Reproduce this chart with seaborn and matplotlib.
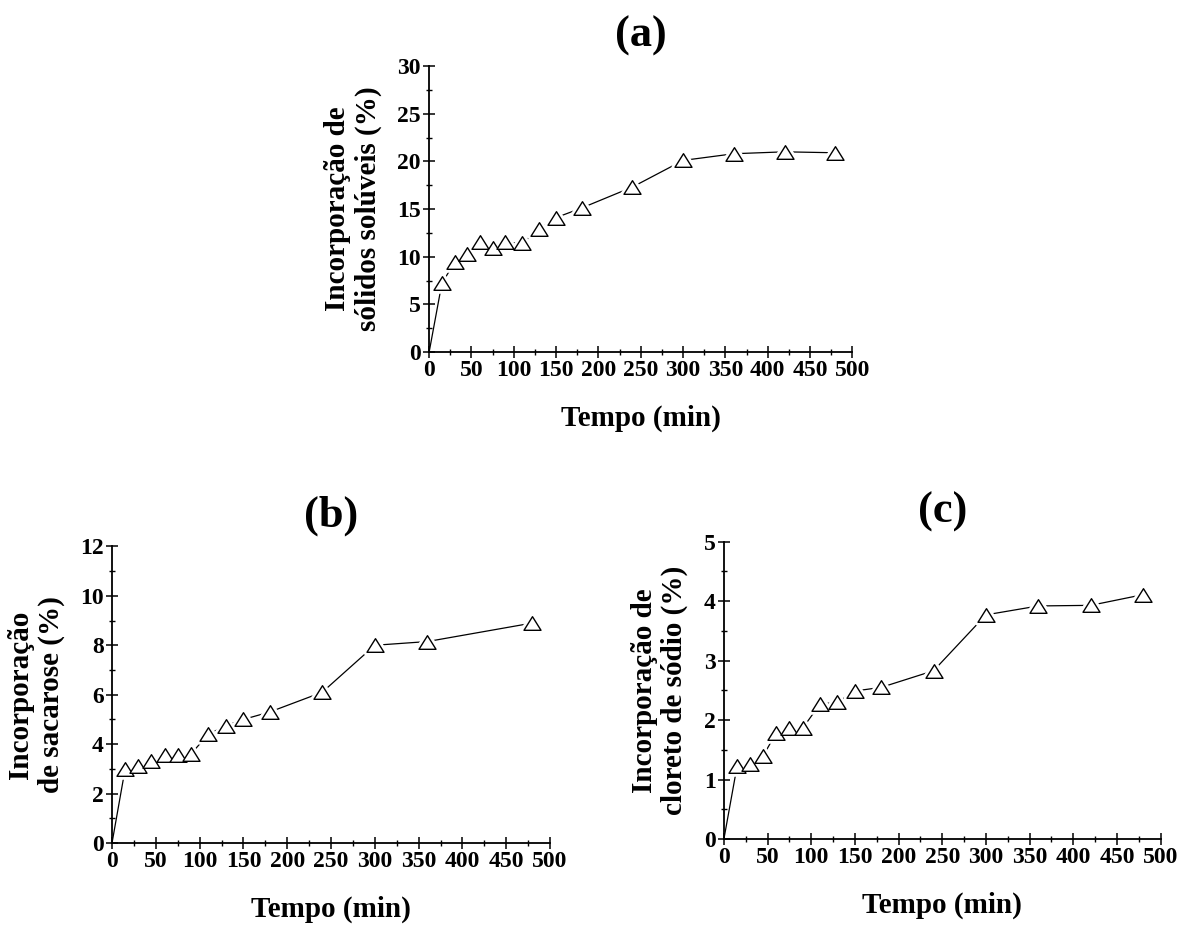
import matplotlib
matplotlib.use("Agg")
import matplotlib.pyplot as plt
from matplotlib.ticker import MultipleLocator, AutoMinorLocator
from matplotlib.path import Path
import seaborn as sns
import pandas as pd

# Soluble-solids, sucrose and sodium chloride uptake over time
tempo_a = [0, 15, 30, 45, 60, 75, 90, 110, 130, 150, 180, 240, 300, 360, 420, 480]
solidos = [0, 7.2, 9.4, 10.3, 11.5, 10.95, 11.5, 11.4, 12.9, 14.1, 15.1, 17.3, 20.1, 20.8, 21.0, 20.9]

tempo_b = [0, 15, 30, 45, 60, 75, 90, 110, 130, 150, 180, 240, 300, 360, 480]
sacarose = [0, 3.0, 3.1, 3.3, 3.55, 3.55, 3.6, 4.4, 4.75, 5.0, 5.3, 6.1, 8.0, 8.15, 8.9]

tempo_c = [0, 15, 30, 45, 60, 75, 90, 110, 130, 150, 180, 240, 300, 360, 420, 480]
cloreto = [0, 1.22, 1.27, 1.40, 1.79, 1.86, 1.86, 2.27, 2.30, 2.49, 2.55, 2.83, 3.77, 3.92, 3.93, 4.11]

titulos = ["(a)", "(b)", "(c)"]
rotulos_y = ["Incorporação de\nsólidos solúveis (%)",
             "Incorporação\nde sacarose (%)",
             "Incorporação de\ncloreto de sódio (%)"]
rotulo_x = "Tempo (min)"

sns.set_theme(style="ticks")
plt.rcParams["font.family"] = ["Liberation Serif", "DejaVu Serif"]
plt.rcParams["font.weight"] = "bold"
plt.rcParams["axes.labelweight"] = "bold"
plt.rcParams["axes.titleweight"] = "bold"
plt.rcParams["text.color"] = "black"
plt.rcParams["axes.labelcolor"] = "black"

fig = plt.figure(figsize=(11.79, 9.30), dpi=100)
fig.patch.set_facecolor("white")

# axes rectangles in figure fractions
caixas = [
    [0.364, 0.6215, 0.359, 0.3075],
    [0.095, 0.0935, 0.3715, 0.319],
    [0.614, 0.0978, 0.3704, 0.3197],
]
limites_y = [(30, 5), (12, 2), (5, 1)]
series = [(tempo_a, solidos), (tempo_b, sacarose), (tempo_c, cloreto)]

# open triangle, a little wider than tall
triangulo = Path([(-1.0, -0.8), (1.0, -0.8), (0.0, 0.8), (-1.0, -0.8)], closed=True)

for caixa, (tx, ty), (ymax, passo), titulo, rot in zip(caixas, series, limites_y, titulos, rotulos_y):
    ax = fig.add_axes(caixa)
    df = pd.DataFrame({"tempo": tx, "valor": ty})
    pontos = df[df["tempo"] > 0]

    sns.lineplot(data=df, x="tempo", y="valor", ax=ax, color="black",
                 linewidth=0.9, estimator=None, sort=False, zorder=2)
    # white halo leaves a small gap between line and marker
    sns.scatterplot(data=pontos, x="tempo", y="valor", ax=ax, marker=triangulo,
                    s=150, color="white", edgecolor="white", linewidth=5,
                    zorder=3, clip_on=False)
    sns.scatterplot(data=pontos, x="tempo", y="valor", ax=ax, marker=triangulo,
                    s=150, color="white", edgecolor="black", linewidth=1.0,
                    zorder=4, clip_on=False)

    ax.set_xlim(0, 500)
    ax.set_ylim(0, ymax)
    ax.xaxis.set_major_locator(MultipleLocator(50))
    ax.xaxis.set_minor_locator(AutoMinorLocator(2))
    ax.yaxis.set_major_locator(MultipleLocator(passo))
    ax.yaxis.set_minor_locator(AutoMinorLocator(2))

    for s in ["top", "right"]:
        ax.spines[s].set_visible(False)
    for s in ["left", "bottom"]:
        ax.spines[s].set_linewidth(1.3)
        ax.spines[s].set_color("black")

    ax.tick_params(which="major", direction="inout", length=8, width=1.1,
                   colors="black", labelsize=17, pad=2)
    ax.tick_params(which="minor", direction="inout", length=5, width=1.0,
                   colors="black")
    for lab in ax.get_xticklabels() + ax.get_yticklabels():
        lab.set_fontweight("bold")

    ax.set_xlabel(rotulo_x, fontsize=21, fontweight="bold", labelpad=17)
    ax.set_ylabel(rot, fontsize=21, fontweight="bold", labelpad=11,
                  linespacing=1.15)
    ax.set_title(titulo, fontsize=32, fontweight="bold", pad=14)
    ax.set_facecolor("none")

fig.savefig("out.png", dpi=100, facecolor="white")
